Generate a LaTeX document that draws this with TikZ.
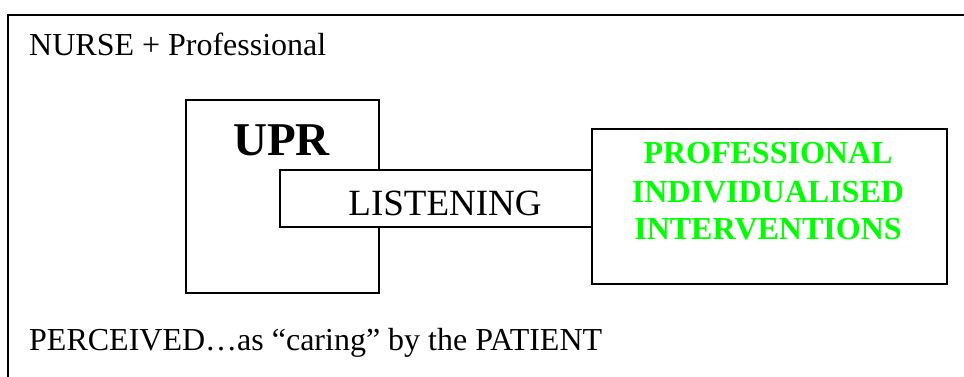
\documentclass[tikz,border=0pt]{standalone}
\usepackage{fontspec}
\setmainfont{Liberation Serif}
\usepackage{xcolor}
\definecolor{cLine}{HTML}{000000}
\definecolor{cGreen}{HTML}{00FF00}
\usepackage{tikz}
\usetikzlibrary{positioning}
\tikzset{
  node-box/.style={draw=cLine,line width=1.6pt,fill=white,rectangle,
    anchor=north west,inner sep=0pt},
  node-text/.style={inner sep=0pt,font=\fontsize{32}{37}\selectfont},
  node-green/.style={inner sep=0pt,align=center,text=cGreen,
    font=\fontsize{32}{37}\selectfont\bfseries},
  frame-line/.style={draw=cLine,line width=2pt},
}

\begin{document}
\begin{tikzpicture}[x=1pt,y=-1pt]
  \useasboundingbox (0,0) rectangle (964,376);
  \begin{scope}
    \clip (0,0) rectangle (964,376);
    \draw[frame-line] (8,15) rectangle (1000,420);
  \end{scope}
  \node[node-text,anchor=base west]                       (nurse) at (29,55)  {NURSE + Professional};
  \node[node-box,minimum width=193pt,minimum height=193pt] (upr)   at (185,99) {};
  \node[inner sep=0pt,anchor=base,font=\fontsize{47}{50}\selectfont\bfseries]
                                                          (uprt)  at (281.5,155) {UPR};
  \node[node-box,minimum width=355pt,minimum height=155pt] (pii)   at (591,128) {};
  \node[node-box,minimum width=312pt,minimum height=57pt]  (lst)   at (279,169) {};
  \node[inner sep=0pt,anchor=base,font=\fontsize{37}{40}\selectfont]
                                                          (lstt)  at (445,215) {LISTENING};
  \node[node-green,anchor=base]                           (pro)   at (768,163) {PROFESSIONAL};
  \node[node-green,anchor=base]                           (ind)   at (768,202) {INDIVIDUALISED};
  \node[node-green,anchor=base]                           (int)   at (768,239) {INTERVENTIONS};
  \node[node-text,anchor=base west]                       (perc)  at (29,350) {PERCEIVED…as “caring” by the PATIENT};
\end{tikzpicture}
\end{document}
